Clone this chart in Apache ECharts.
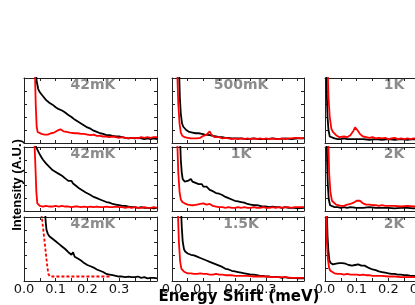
<!DOCTYPE html>
<html><head><meta charset="utf-8">
<script src="https://cdn.jsdelivr.net/npm/echarts@6/dist/echarts.min.js"></script>
<style>html,body{margin:0;padding:0;background:#fff;overflow:hidden;width:415px;height:305px}#c{width:470px;height:305px}</style>
</head><body><div id="c"></div>
<script>
// ---- data: [energy shift (meV), intensity (a.u.)] ----
const panelLabels = ['42mK','500mK','1K','42mK','1K','2K','42mK','1.5K','2K'];
const xTickLabels = ['0.0','0.1','0.2','0.3'];
const xTitle = 'Energy Shift (meV)';
const yTitle = 'Intensity (A.U.)';

const p11Black = [[0.036,1.2],[0.040,0.95],[0.045,0.83],[0.050,0.78],[0.055,0.76],[0.060,0.72],[0.065,0.71],[0.070,0.66],[0.075,0.65],[0.080,0.62],[0.085,0.63],[0.090,0.59],[0.095,0.58],[0.100,0.55],[0.105,0.57],[0.110,0.52],[0.115,0.53],[0.120,0.50],[0.125,0.49],[0.130,0.47],[0.135,0.46],[0.140,0.43],[0.145,0.42],[0.150,0.40],[0.155,0.39],[0.160,0.36],[0.165,0.35],[0.170,0.33],[0.175,0.33],[0.180,0.30],[0.185,0.29],[0.190,0.27],[0.195,0.27],[0.200,0.24],[0.205,0.23],[0.210,0.22],[0.215,0.22],[0.220,0.19],[0.225,0.19],[0.230,0.17],[0.240,0.15],[0.250,0.14],[0.260,0.12],[0.270,0.12],[0.280,0.11],[0.290,0.10],[0.300,0.10],[0.310,0.09],[0.320,0.08],[0.330,0.07],[0.340,0.08],[0.350,0.07],[0.360,0.08],[0.370,0.07],[0.380,0.06],[0.390,0.07],[0.400,0.06],[0.410,0.07],[0.420,0.06]];
const p11Red = [[0.034,1.2],[0.037,0.6],[0.040,0.25],[0.043,0.17],[0.048,0.15],[0.055,0.14],[0.060,0.15],[0.065,0.13],[0.070,0.14],[0.075,0.13],[0.080,0.14],[0.085,0.15],[0.090,0.14],[0.095,0.16],[0.100,0.17],[0.105,0.19],[0.110,0.20],[0.115,0.21],[0.120,0.20],[0.125,0.18],[0.130,0.19],[0.135,0.17],[0.140,0.18],[0.145,0.16],[0.150,0.17],[0.160,0.15],[0.170,0.15],[0.180,0.14],[0.190,0.14],[0.200,0.13],[0.210,0.12],[0.220,0.13],[0.230,0.11],[0.240,0.11],[0.250,0.10],[0.260,0.10],[0.270,0.09],[0.280,0.10],[0.290,0.09],[0.300,0.08],[0.310,0.09],[0.320,0.08],[0.330,0.07],[0.340,0.08],[0.350,0.08],[0.360,0.07],[0.370,0.09],[0.380,0.08],[0.390,0.09],[0.400,0.08],[0.410,0.09],[0.420,0.09]];

const p12Black = [[0.022,1.2],[0.025,0.7],[0.028,0.45],[0.032,0.30],[0.036,0.25],[0.040,0.22],[0.045,0.20],[0.050,0.19],[0.055,0.17],[0.060,0.18],[0.065,0.16],[0.070,0.17],[0.075,0.15],[0.080,0.16],[0.085,0.15],[0.090,0.15],[0.095,0.14],[0.100,0.14],[0.105,0.13],[0.110,0.13],[0.120,0.12],[0.130,0.11],[0.140,0.10],[0.150,0.09],[0.160,0.09],[0.170,0.08],[0.180,0.08],[0.190,0.07],[0.200,0.07],[0.220,0.07],[0.240,0.06],[0.260,0.07],[0.280,0.06],[0.300,0.06],[0.320,0.07],[0.340,0.06],[0.360,0.07],[0.380,0.06],[0.400,0.07],[0.420,0.07]];
const p12Red = [[0.016,1.2],[0.020,0.6],[0.024,0.3],[0.028,0.16],[0.033,0.11],[0.040,0.09],[0.050,0.08],[0.060,0.07],[0.070,0.07],[0.080,0.07],[0.090,0.08],[0.100,0.11],[0.105,0.12],[0.110,0.13],[0.115,0.14],[0.120,0.18],[0.125,0.13],[0.130,0.11],[0.135,0.09],[0.140,0.08],[0.150,0.09],[0.160,0.07],[0.170,0.08],[0.180,0.07],[0.190,0.06],[0.200,0.07],[0.210,0.06],[0.220,0.07],[0.230,0.06],[0.240,0.07],[0.250,0.06],[0.260,0.07],[0.270,0.06],[0.280,0.07],[0.290,0.06],[0.300,0.07],[0.310,0.06],[0.320,0.07],[0.330,0.06],[0.340,0.06],[0.350,0.07],[0.360,0.06],[0.370,0.07],[0.380,0.07],[0.390,0.08],[0.400,0.08],[0.410,0.07],[0.420,0.08]];

const p13Black = [[0.004,1.2],[0.006,0.7],[0.008,0.4],[0.011,0.2],[0.015,0.10],[0.020,0.08],[0.030,0.07],[0.040,0.06],[0.050,0.06],[0.060,0.07],[0.070,0.06],[0.080,0.06],[0.100,0.06],[0.120,0.06],[0.140,0.05],[0.160,0.06],[0.180,0.05],[0.200,0.06],[0.220,0.05],[0.240,0.06],[0.260,0.05],[0.280,0.06],[0.300,0.05],[0.320,0.06],[0.360,0.05],[0.420,0.05]];
const p13Red = [[0.008,1.2],[0.011,0.7],[0.015,0.4],[0.020,0.22],[0.025,0.17],[0.030,0.14],[0.035,0.12],[0.040,0.10],[0.045,0.09],[0.050,0.09],[0.060,0.10],[0.070,0.09],[0.075,0.10],[0.080,0.12],[0.085,0.15],[0.090,0.19],[0.095,0.24],[0.100,0.22],[0.105,0.18],[0.110,0.14],[0.115,0.11],[0.120,0.10],[0.130,0.09],[0.140,0.08],[0.150,0.09],[0.160,0.07],[0.170,0.08],[0.180,0.07],[0.190,0.08],[0.200,0.06],[0.210,0.07],[0.220,0.08],[0.230,0.06],[0.240,0.07],[0.250,0.06],[0.260,0.07],[0.270,0.06],[0.280,0.07],[0.300,0.06],[0.320,0.07],[0.360,0.06],[0.420,0.06]];

const p21Black = [[0.033,1.2],[0.038,1.0],[0.043,0.95],[0.048,0.90],[0.055,0.84],[0.060,0.80],[0.065,0.77],[0.070,0.74],[0.075,0.71],[0.080,0.69],[0.085,0.66],[0.090,0.64],[0.095,0.62],[0.100,0.61],[0.105,0.64],[0.110,0.58],[0.115,0.56],[0.120,0.55],[0.125,0.53],[0.130,0.51],[0.135,0.49],[0.140,0.47],[0.145,0.46],[0.150,0.47],[0.155,0.43],[0.160,0.41],[0.165,0.39],[0.170,0.37],[0.175,0.35],[0.180,0.34],[0.185,0.32],[0.190,0.30],[0.195,0.29],[0.200,0.27],[0.210,0.25],[0.220,0.22],[0.230,0.20],[0.240,0.18],[0.250,0.16],[0.260,0.14],[0.270,0.13],[0.280,0.11],[0.290,0.10],[0.300,0.09],[0.310,0.08],[0.320,0.08],[0.330,0.07],[0.340,0.06],[0.350,0.06],[0.360,0.05],[0.370,0.06],[0.380,0.05],[0.390,0.05],[0.400,0.05],[0.410,0.04],[0.420,0.05]];
const p21Red = [[0.032,1.2],[0.036,0.7],[0.039,0.3],[0.042,0.12],[0.046,0.09],[0.050,0.08],[0.060,0.07],[0.070,0.08],[0.080,0.07],[0.090,0.07],[0.100,0.08],[0.110,0.07],[0.120,0.08],[0.130,0.07],[0.140,0.07],[0.150,0.06],[0.160,0.07],[0.170,0.07],[0.180,0.06],[0.190,0.07],[0.200,0.06],[0.210,0.07],[0.220,0.06],[0.230,0.07],[0.240,0.06],[0.250,0.06],[0.260,0.07],[0.270,0.06],[0.280,0.06],[0.290,0.07],[0.300,0.06],[0.310,0.06],[0.320,0.05],[0.330,0.06],[0.340,0.05],[0.350,0.06],[0.360,0.05],[0.370,0.05],[0.380,0.06],[0.390,0.05],[0.400,0.05],[0.410,0.06],[0.420,0.05]];

const p22Black = [[0.025,1.2],[0.028,0.8],[0.031,0.6],[0.034,0.50],[0.040,0.46],[0.045,0.45],[0.050,0.47],[0.055,0.48],[0.060,0.50],[0.065,0.46],[0.070,0.45],[0.075,0.44],[0.080,0.45],[0.085,0.42],[0.090,0.40],[0.095,0.42],[0.100,0.38],[0.105,0.37],[0.110,0.38],[0.115,0.35],[0.120,0.33],[0.125,0.34],[0.130,0.31],[0.135,0.30],[0.140,0.28],[0.145,0.29],[0.150,0.27],[0.155,0.28],[0.160,0.25],[0.165,0.23],[0.170,0.22],[0.180,0.20],[0.190,0.18],[0.200,0.16],[0.210,0.15],[0.220,0.14],[0.230,0.13],[0.240,0.11],[0.250,0.10],[0.260,0.09],[0.270,0.09],[0.280,0.08],[0.290,0.07],[0.300,0.07],[0.310,0.06],[0.320,0.07],[0.330,0.06],[0.340,0.06],[0.350,0.05],[0.360,0.06],[0.370,0.05],[0.380,0.05],[0.390,0.05],[0.400,0.04],[0.420,0.05]];
const p22Red = [[0.016,1.2],[0.020,0.6],[0.024,0.3],[0.028,0.18],[0.033,0.14],[0.040,0.12],[0.045,0.11],[0.050,0.10],[0.060,0.09],[0.070,0.09],[0.080,0.10],[0.090,0.11],[0.100,0.12],[0.110,0.10],[0.120,0.11],[0.130,0.08],[0.140,0.07],[0.150,0.06],[0.160,0.06],[0.170,0.05],[0.180,0.06],[0.190,0.05],[0.200,0.05],[0.210,0.06],[0.220,0.05],[0.230,0.06],[0.240,0.05],[0.250,0.05],[0.260,0.06],[0.270,0.05],[0.280,0.05],[0.290,0.06],[0.300,0.05],[0.310,0.05],[0.320,0.06],[0.330,0.05],[0.340,0.06],[0.350,0.05],[0.360,0.06],[0.370,0.06],[0.380,0.05],[0.390,0.06],[0.400,0.06],[0.420,0.06]];

const p23Black = [[0.005,1.2],[0.007,0.7],[0.009,0.4],[0.012,0.18],[0.016,0.09],[0.020,0.07],[0.030,0.06],[0.040,0.06],[0.050,0.05],[0.060,0.06],[0.070,0.05],[0.080,0.06],[0.100,0.05],[0.120,0.05],[0.140,0.06],[0.160,0.05],[0.180,0.05],[0.200,0.05],[0.220,0.04],[0.240,0.05],[0.260,0.05],[0.280,0.04],[0.300,0.05],[0.340,0.04],[0.420,0.04]];
const p23Red = [[0.010,1.2],[0.013,0.6],[0.017,0.3],[0.022,0.16],[0.028,0.13],[0.035,0.10],[0.040,0.09],[0.050,0.08],[0.060,0.08],[0.070,0.10],[0.080,0.11],[0.090,0.13],[0.095,0.14],[0.100,0.16],[0.105,0.17],[0.110,0.16],[0.115,0.14],[0.120,0.12],[0.130,0.10],[0.140,0.10],[0.150,0.09],[0.160,0.09],[0.170,0.08],[0.180,0.09],[0.190,0.08],[0.200,0.08],[0.220,0.08],[0.240,0.07],[0.260,0.08],[0.280,0.07],[0.300,0.07],[0.340,0.06],[0.420,0.06]];

const p31Black = [[0.066,1.2],[0.068,0.95],[0.071,0.80],[0.075,0.74],[0.080,0.70],[0.085,0.67],[0.090,0.66],[0.095,0.63],[0.100,0.62],[0.105,0.59],[0.110,0.58],[0.115,0.55],[0.120,0.54],[0.125,0.52],[0.130,0.50],[0.135,0.47],[0.140,0.45],[0.145,0.43],[0.150,0.41],[0.155,0.45],[0.160,0.38],[0.165,0.36],[0.170,0.35],[0.175,0.33],[0.180,0.32],[0.185,0.30],[0.190,0.28],[0.195,0.27],[0.200,0.25],[0.210,0.23],[0.220,0.21],[0.230,0.18],[0.240,0.16],[0.250,0.14],[0.260,0.11],[0.270,0.10],[0.280,0.09],[0.290,0.08],[0.300,0.07],[0.310,0.07],[0.320,0.06],[0.330,0.07],[0.340,0.06],[0.350,0.06],[0.360,0.07],[0.370,0.05],[0.380,0.06],[0.390,0.04],[0.400,0.05],[0.410,0.05],[0.420,0.04]];
const p31Fit = [[0.055,1.05],[0.062,0.75],[0.068,0.48],[0.073,0.25],[0.077,0.11],[0.082,0.07],[0.270,0.07]];

const p32Black = [[0.028,1.2],[0.031,0.85],[0.034,0.62],[0.038,0.50],[0.042,0.46],[0.050,0.43],[0.055,0.42],[0.060,0.41],[0.065,0.42],[0.070,0.40],[0.075,0.39],[0.080,0.38],[0.085,0.37],[0.090,0.36],[0.095,0.37],[0.100,0.34],[0.105,0.33],[0.110,0.32],[0.120,0.30],[0.130,0.28],[0.140,0.26],[0.150,0.24],[0.160,0.22],[0.170,0.19],[0.180,0.18],[0.190,0.16],[0.200,0.15],[0.210,0.14],[0.220,0.13],[0.230,0.12],[0.240,0.11],[0.250,0.10],[0.260,0.10],[0.270,0.09],[0.280,0.08],[0.290,0.08],[0.300,0.07],[0.310,0.07],[0.320,0.06],[0.330,0.06],[0.340,0.06],[0.350,0.05],[0.360,0.06],[0.370,0.05],[0.380,0.05],[0.390,0.05],[0.400,0.04],[0.420,0.04]];
const p32Red = [[0.018,1.2],[0.022,0.6],[0.026,0.3],[0.030,0.19],[0.034,0.16],[0.040,0.14],[0.045,0.13],[0.050,0.12],[0.060,0.12],[0.070,0.11],[0.080,0.11],[0.090,0.12],[0.100,0.11],[0.110,0.11],[0.120,0.10],[0.130,0.10],[0.140,0.11],[0.150,0.10],[0.160,0.10],[0.170,0.09],[0.180,0.09],[0.190,0.09],[0.200,0.08],[0.220,0.08],[0.240,0.08],[0.260,0.07],[0.280,0.07],[0.300,0.07],[0.320,0.06],[0.340,0.06],[0.360,0.06],[0.380,0.05],[0.400,0.05],[0.420,0.05]];

const p33Black = [[0.005,1.2],[0.008,0.7],[0.011,0.45],[0.014,0.32],[0.018,0.28],[0.025,0.26],[0.030,0.25],[0.035,0.27],[0.040,0.25],[0.045,0.28],[0.050,0.26],[0.055,0.28],[0.060,0.25],[0.065,0.27],[0.070,0.24],[0.075,0.25],[0.080,0.27],[0.085,0.24],[0.090,0.26],[0.095,0.25],[0.100,0.28],[0.105,0.26],[0.110,0.27],[0.115,0.24],[0.120,0.23],[0.125,0.24],[0.130,0.21],[0.140,0.20],[0.150,0.18],[0.160,0.17],[0.170,0.15],[0.180,0.14],[0.190,0.13],[0.200,0.12],[0.210,0.11],[0.220,0.11],[0.230,0.10],[0.240,0.10],[0.250,0.09],[0.260,0.09],[0.270,0.08],[0.280,0.08],[0.300,0.07],[0.340,0.06],[0.420,0.06]];
const p33Red = [[0.003,1.2],[0.006,0.6],[0.009,0.35],[0.013,0.2],[0.017,0.16],[0.022,0.13],[0.030,0.12],[0.040,0.11],[0.050,0.11],[0.060,0.10],[0.070,0.11],[0.080,0.10],[0.090,0.10],[0.100,0.10],[0.110,0.09],[0.120,0.10],[0.130,0.09],[0.140,0.09],[0.150,0.08],[0.160,0.08],[0.180,0.08],[0.200,0.07],[0.220,0.07],[0.240,0.06],[0.260,0.06],[0.300,0.06],[0.420,0.05]];

const panelBlack = [p11Black,p12Black,p13Black,p21Black,p22Black,p23Black,p31Black,p32Black,p33Black];
const panelRed   = [p11Red,p12Red,p13Red,p21Red,p22Red,p23Red,p31Fit,p32Red,p33Red];

// ---- layout ----
const colLeft = [24,172,325], colWidth = [133,132,133];
const rowTop = [78,147,217], rowHeight = [65,64,64];
const frameColor = '#222';

const grids = [], xAxes = [], yAxes = [], series = [], graphics = [];
for (let r = 0; r < 3; r++) {
  for (let c = 0; c < 3; c++) {
    const i = r*3 + c;
    grids.push({left: colLeft[c], top: rowTop[r], width: colWidth[c], height: rowHeight[r], containLabel: false});
    const common = {type:'value', min:0, max:0.42, interval:0.05, gridIndex:i,
      axisLine:{show:true, onZero:false, lineStyle:{color:frameColor, width:1}},
      axisTick:{show:true, inside:true, length:3, lineStyle:{color:frameColor}},
      splitLine:{show:false}};
    xAxes.push(Object.assign({}, common, {position:'bottom',
      axisLabel:{show: r === 2, margin:2, fontFamily:'DejaVu Sans', fontSize:13, color:'#111', showMaxLabel:false,
        formatter: v => { const k = Math.round(v*100); return (k % 10 === 0) ? (xTickLabels[k/10] || '') : ''; }}}));
    xAxes.push(Object.assign({}, common, {position:'top', axisLabel:{show:false}}));
    const ycommon = {type:'value', min:0, max:1, interval:0.2, gridIndex:i,
      axisLine:{show:true, onZero:false, lineStyle:{color:frameColor, width:1}},
      axisTick:{show:true, inside:true, length:3, lineStyle:{color:frameColor}},
      axisLabel:{show:false}, splitLine:{show:false}};
    yAxes.push(Object.assign({}, ycommon, {position:'left'}));
    yAxes.push(Object.assign({}, ycommon, {position:'right'}));
    series.push({type:'line', xAxisIndex:2*i, yAxisIndex:2*i, data: panelBlack[i], showSymbol:false, clip:true,
      lineStyle:{color:'#000', width:1.8}, z:2});
    series.push({type:'line', xAxisIndex:2*i, yAxisIndex:2*i, data: panelRed[i], showSymbol:false, clip:true,
      lineStyle:{color:'#ff0000', width:1.8, type: i === 6 ? [3,2] : 'solid'}, z: i === 6 ? 1 : 3});
    graphics.push({type:'text', x: colLeft[c] + 69, y: rowTop[r] + 7,
      style:{text: panelLabels[i], fill:'#8c8c8c', font:'bold 14px "DejaVu Sans"', textAlign:'center', textVerticalAlign:'middle'}});
  }
}
graphics.push({type:'text', x:239, y:297, style:{text:xTitle, fill:'#000', font:'bold 15px "DejaVu Sans"', textAlign:'center', textVerticalAlign:'middle'}});
graphics.push({type:'text', x:17, y:185, rotation:Math.PI/2, style:{text:yTitle, fill:'#000', font:'bold 13px "Liberation Sans"', textAlign:'center', textVerticalAlign:'middle'}});

const chart = echarts.init(document.getElementById('c'), null, {renderer:'canvas'});
chart.setOption({animation:false, backgroundColor:'#fff', grid:grids, xAxis:xAxes, yAxis:yAxes, series:series, graphic:graphics});
</script></body></html>
